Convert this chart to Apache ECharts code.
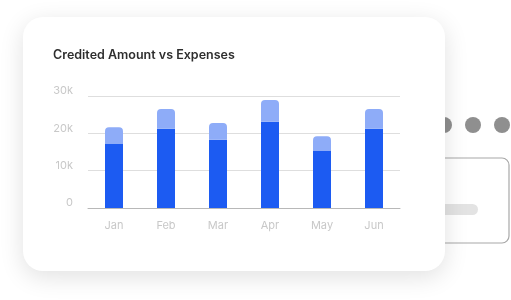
<!DOCTYPE html>
<html>
<head>
<meta charset="utf-8">
<script src="https://cdn.jsdelivr.net/npm/echarts@6/dist/echarts.min.js"></script>
<style>
html,body{margin:0;padding:0;background:#fff;}
#c{width:511px;height:300px;}
</style>
</head>
<body>
<div id="c"></div>
<script>
var categories = ['Jan','Feb','Mar','Apr','May','Jun'];
var creditedBase = [17300, 21200, 18300, 23100, 15300, 21200];
var expensesTop = [4300, 5300, 4500, 5800, 3900, 5300];
var yTicks = [0, 10000, 20000, 30000];
var titleText = 'Credited Amount vs Expenses';

var chart = echarts.init(document.getElementById('c'), null, {renderer:'canvas'});
chart.setOption({
  animation:false,
  backgroundColor:'#ffffff',
  textStyle:{fontFamily:'Inter, "Noto Sans", sans-serif'},
  title:{
    text:titleText, left:53, top:49, padding:0,
    textStyle:{fontSize:12.5, fontWeight:600, color:'#2e2e2e', fontFamily:'Inter, sans-serif'}
  },
  graphic:{
    z:-10,
    elements:[
      {type:'circle', shape:{cx:444, cy:125, r:8}, style:{fill:'#8f8f8f'}},
      {type:'circle', shape:{cx:473, cy:125, r:8}, style:{fill:'#8f8f8f'}},
      {type:'circle', shape:{cx:502, cy:125, r:8}, style:{fill:'#8f8f8f'}},
      {type:'rect', shape:{x:400, y:158, width:109, height:85, r:7}, style:{fill:'#ffffff', stroke:'#a8a8a8', lineWidth:1.2}},
      {type:'rect', shape:{x:400, y:204, width:78, height:11, r:5.5}, style:{fill:'#e3e3e3'}},
      {type:'rect', shape:{x:23, y:17, width:422, height:254, r:20},
       style:{fill:'#ffffff', shadowBlur:24, shadowColor:'rgba(0,0,0,0.12)', shadowOffsetY:6}}
    ]
  },
  grid:{left:88, right:111, top:96, bottom:92, containLabel:false},
  xAxis:{
    type:'category', data:categories,
    axisLine:{lineStyle:{color:'#b8b8b8', width:1}},
    axisTick:{show:false},
    axisLabel:{color:'#c8c8c8', fontSize:11, margin:12}
  },
  yAxis:{
    type:'value', min:0, max:30000, interval:10000,
    axisLine:{show:false}, axisTick:{show:false},
    splitLine:{lineStyle:{color:'#dedede', width:1}},
    axisLabel:{color:'#c8c8c8', fontSize:11, margin:15, verticalAlign:'bottom', lineHeight:10,
      formatter:function(v){ return yTicks.indexOf(v)>=0 ? (v===0?'0':(v/1000)+'k') : ''; }}
  },
  series:[
    {type:'bar', stack:'a', data:creditedBase, barWidth:18,
     itemStyle:{color:'#1c5bf2'}},
    {type:'bar', stack:'a', data:expensesTop, barWidth:18,
     itemStyle:{color:'#8eacf8', borderRadius:[4,4,0,0]}}
  ]
});
</script>
</body>
</html>
